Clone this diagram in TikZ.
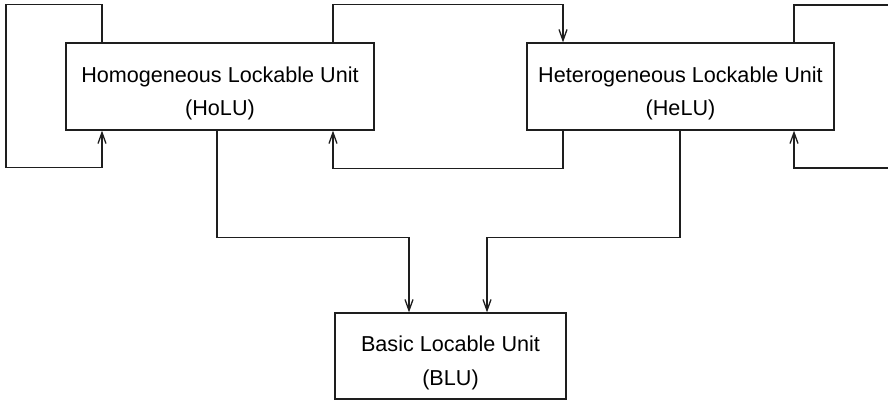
\documentclass[tikz,border=0pt]{standalone}
\usepackage{fontspec}
\setmainfont{Liberation Sans}
\usepackage{tikz}
\usetikzlibrary{arrows.meta, positioning, calc}
\definecolor{mydark}{RGB}{30,30,30}
\newcommand{\unitstrut}{\rule{0pt}{29.6pt}}
\tikzset{
  unitbox/.style={rectangle, draw=mydark, fill=white, align=center,
    font=\fontsize{21.6}{33.5}\selectfont, line width=1.3pt, inner sep=0pt},
  arrow/.style={-{Straight Barb[length=11pt,width=8pt,line width=1.3pt]},
    line width=1.3pt, color=mydark},
  line/.style={line width=1.3pt, color=mydark}
}
\begin{document}
\begin{tikzpicture}[x=1pt, y=-1pt]
  \useasboundingbox (0,0) rectangle (888,400);
  % units
  \node[unitbox, minimum width=308pt, minimum height=87pt] (holu) at (220,86.5)
    {\unitstrut Homogeneous Lockable Unit\\(HoLU)};
  \node[unitbox, minimum width=307pt, minimum height=87pt] (helu) at (680.5,86.5)
    {\unitstrut Heterogeneous Lockable Unit\\(HeLU)};
  \node[unitbox, minimum width=231pt, minimum height=86pt] (blu) at (450.5,356)
    {\unitstrut Basic Locable Unit\\(BLU)};
  % loose ends of the right loop
  \coordinate (rtop) at (888,5);
  \coordinate (rbot) at (888,168);
  % self loop of HoLU
  \draw[arrow] ([xshift=-118pt]holu.north) -- ++(0,-38) -- ++(-96,0)
    -- ++(0,163) -| ([xshift=-118pt]holu.south);
  % HoLU <-> HeLU
  \draw[arrow] ([xshift=113pt]holu.north) -- ++(0,-38)
    -| ([xshift=-117.5pt]helu.north);
  \draw[arrow] ([xshift=-117.5pt]helu.south) -- ++(0,38)
    -| ([xshift=113pt]holu.south);
  % self loop of HeLU
  \draw[line] ([xshift=113.5pt]helu.north) |- (rtop);
  \draw[arrow] (rbot) -| ([xshift=113.5pt]helu.south);
  % down to BLU
  \draw[arrow] ([xshift=-3pt]holu.south) -- ++(0,107)
    -| ([xshift=-41.5pt]blu.north);
  \draw[arrow] ([xshift=-0.5pt]helu.south) -- ++(0,107)
    -| ([xshift=36.5pt]blu.north);
\end{tikzpicture}
\end{document}
